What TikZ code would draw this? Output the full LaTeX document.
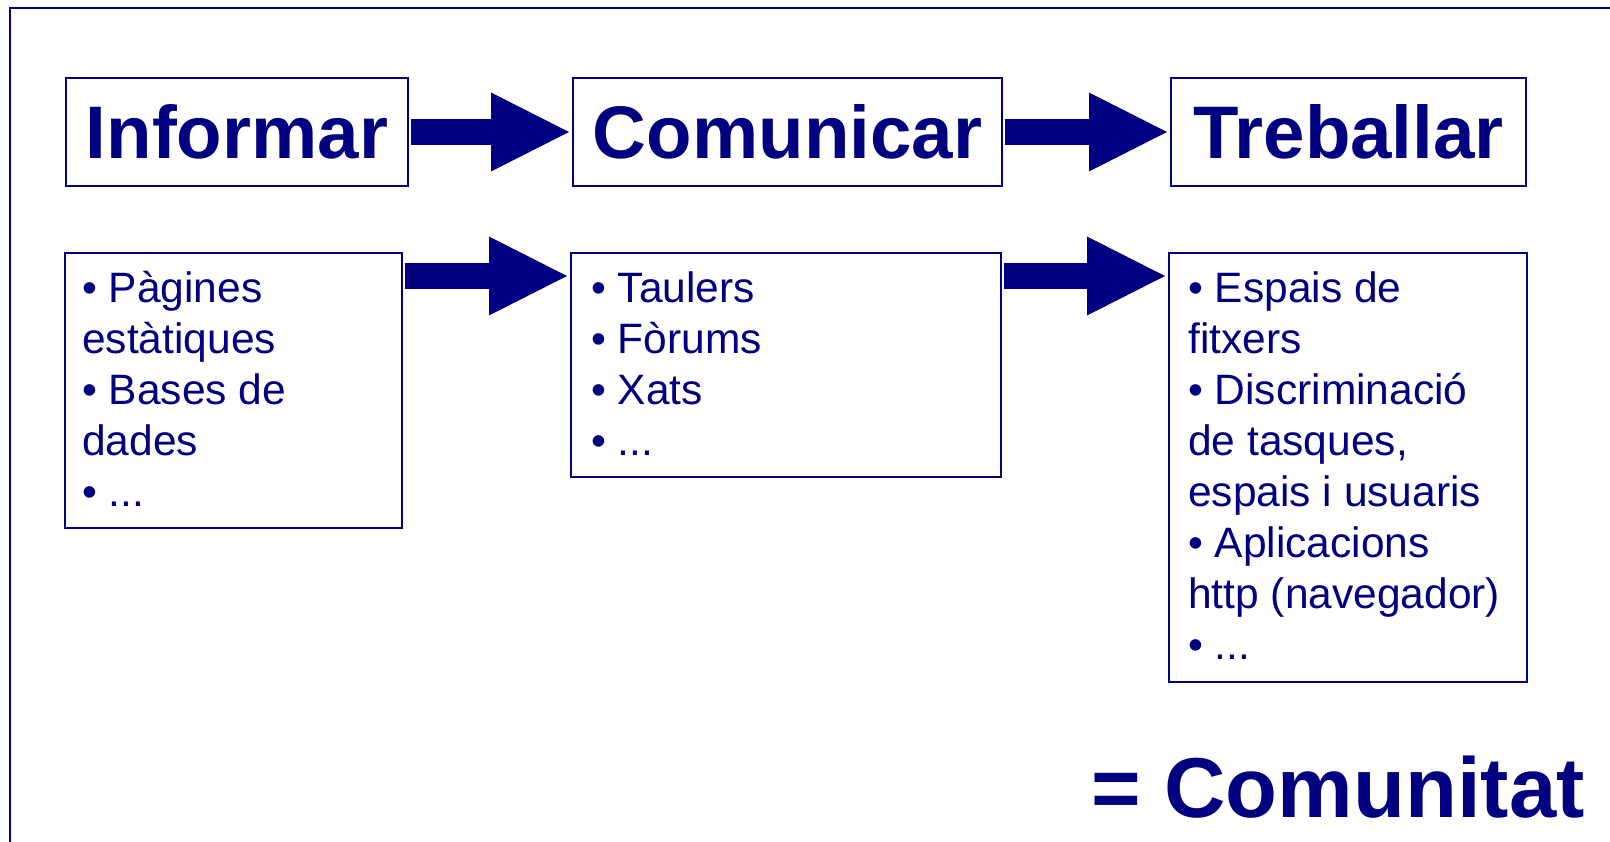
\documentclass[tikz,border=0pt]{standalone}
\usepackage{fontspec}
\setmainfont{Liberation Sans}
\usetikzlibrary{arrows.meta,positioning}
\definecolor{webnavy}{RGB}{0,0,128}
\tikzset{
  titlebox/.style={draw=webnavy, line width=2pt, inner sep=0pt, text=webnavy,
    font=\fontsize{74.5}{88}\selectfont\bfseries},
  listbox/.style={draw=webnavy, line width=2pt, inner sep=0pt},
  listtext/.style={inner sep=0pt, align=left, text=webnavy,
    font=\fontsize{42.5}{51}\selectfont},
  bigarrow/.style={webnavy, line width=26pt,
    -{Triangle[length=78pt,width=79pt,line width=0pt]},
    shorten <=2pt, shorten >=3pt},
  frameline/.style={webnavy, line width=2pt}
}
\begin{document}
\begin{tikzpicture}[x=1pt,y=-1pt]
            \useasboundingbox (0,0) rectangle (1610,842);
            \clip (0,0) rectangle (1610,842);
            
            % Frame of the slide
            \draw [frameline] (10,860) -- (10,8) -- (1620,8);%
            
            % Title boxes
            \draw (237.0,132.0) node [titlebox, minimum width=342pt, minimum height=108pt] (inf) {Informar};%
            \draw (787.5,132.0) node [titlebox, minimum width=429pt, minimum height=108pt] (com) {Comunicar};%
            \draw (1348.5,132.0) node [titlebox, minimum width=355pt, minimum height=108pt] (tre) {Treballar};%
            
            % List boxes
            \draw (233.5,390.5) node [listbox, minimum width=337pt, minimum height=275pt] (linf) {};%
            \draw (786.0,365.0) node [listbox, minimum width=430pt, minimum height=224pt] (lcom) {};%
            \draw (1348.0,467.5) node [listbox, minimum width=358pt, minimum height=429pt] (ltre) {};%
            
            % List texts
            \node [listtext, below right=15pt and 18pt of linf.north west] (tinf)
              {\strut• Pàgines\\ estàtiques\\ • Bases de\\ dades\\ • ...};%
            \node [listtext, below right=15pt and 21pt of lcom.north west] (tcom)
              {\strut• Taulers\\ • Fòrums\\ • Xats\\ • ...};%
            \node [listtext, below right=15pt and 20pt of ltre.north west] (ttre)
              {\strut• Espais de\\ fitxers\\ • Discriminació\\ de tasques,\\ espais i usuaris\\ • Aplicacions\\ http (navegador)\\ • ...};%
            
            % Drawing arrows
            \draw [bigarrow] (inf.east) -- (com.west);%
            \draw [bigarrow] (com.east) -- (tre.west);%
            \draw [bigarrow] ([yshift=-24pt]linf.north east) -- ([yshift=-24pt]lcom.north west);%
            \draw [bigarrow] ([yshift=-24pt]lcom.north east) -- ([yshift=-24pt]ltre.north west);%
            
            % Result
            \draw (1585,817) node [anchor=base east, inner sep=0pt, text=webnavy,
              font=\fontsize{85}{100}\selectfont\bfseries] (res) {= Comunitat};%
\end{tikzpicture}
\end{document}
